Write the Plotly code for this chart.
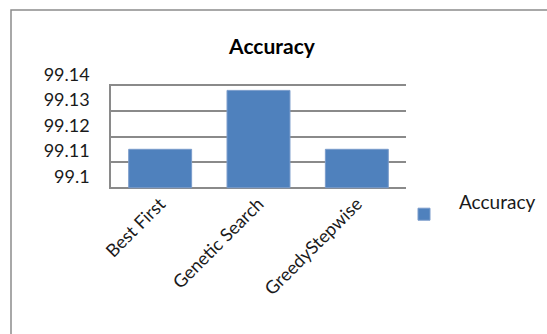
import plotly.graph_objects as go

# Data
methods = ["Best First", "Genetic Search", "GreedyStepwise"]
accuracy = [99.115, 99.138, 99.115]
y_ticks = [99.10, 99.11, 99.12, 99.13, 99.14]
y_tick_labels = ["99.1", "99.11", "99.12", "99.13", "99.14"]
y_range = [99.0995, 99.1405]

W, H = 547, 334
ML, MR, MT, MB = 111, 141, 84, 145
PW, PH = W - ML - MR, H - MT - MB

BLUE = "#4F81BD"
GRID = "#8A8A8A"
FONT = "Lato, Carlito, Calibri, sans-serif"

fig = go.Figure()
fig.add_trace(go.Bar(
    x=methods,
    y=[v - y_ticks[0] for v in accuracy],
    base=y_ticks[0],
    name="Accuracy<br> ",
    marker=dict(color=BLUE, line=dict(color="#7A9CCB", width=1)),
    hoverinfo="skip",
))

# outer chart frame (runs off the right and bottom edges)
def px_x(p):
    return (p - ML) / PW

def px_y(p):
    return (H - MB - p) / PH

fig.add_shape(type="rect", xref="paper", yref="paper",
              x0=px_x(11), x1=px_x(W + 20), y0=px_y(10), y1=px_y(H + 20),
              line=dict(color="#8C8C8C", width=1.5), fillcolor="rgba(0,0,0,0)",
              layer="below")

fig.update_layout(
    width=W, height=H,
    margin=dict(l=ML, r=MR, t=MT, b=MB, pad=0, autoexpand=False),
    paper_bgcolor="white", plot_bgcolor="white",
    bargap=0.36,
    font=dict(family=FONT, color="#1a1a1a"),
    title=dict(text="<b>Accuracy</b>", font=dict(size=21, family=FONT, color="#000"),
               x=272 / W, xanchor="center", y=1 - 47 / H, yanchor="middle"),
    showlegend=True,
    legend=dict(x=px_x(389), y=px_y(183), xanchor="left", yanchor="top",
                font=dict(size=19, family=FONT, color="#1a1a1a"),
                bgcolor="rgba(0,0,0,0)", itemwidth=60, valign="middle"),
    xaxis=dict(showgrid=False, showline=False, ticks="", tickangle=-45,
               tickfont=dict(size=18, family=FONT, color="#1a1a1a")),
    yaxis=dict(range=y_range, tickvals=y_ticks, ticktext=y_tick_labels,
               showgrid=True, gridcolor=GRID, gridwidth=1.5,
               showline=True, linecolor=GRID, linewidth=1.5,
               zeroline=False, ticks="", ticklabelstandoff=16, ticklabelshift=-11,
               tickfont=dict(size=18, family=FONT, color="#1a1a1a")),
)

fig.write_html("out.html")
